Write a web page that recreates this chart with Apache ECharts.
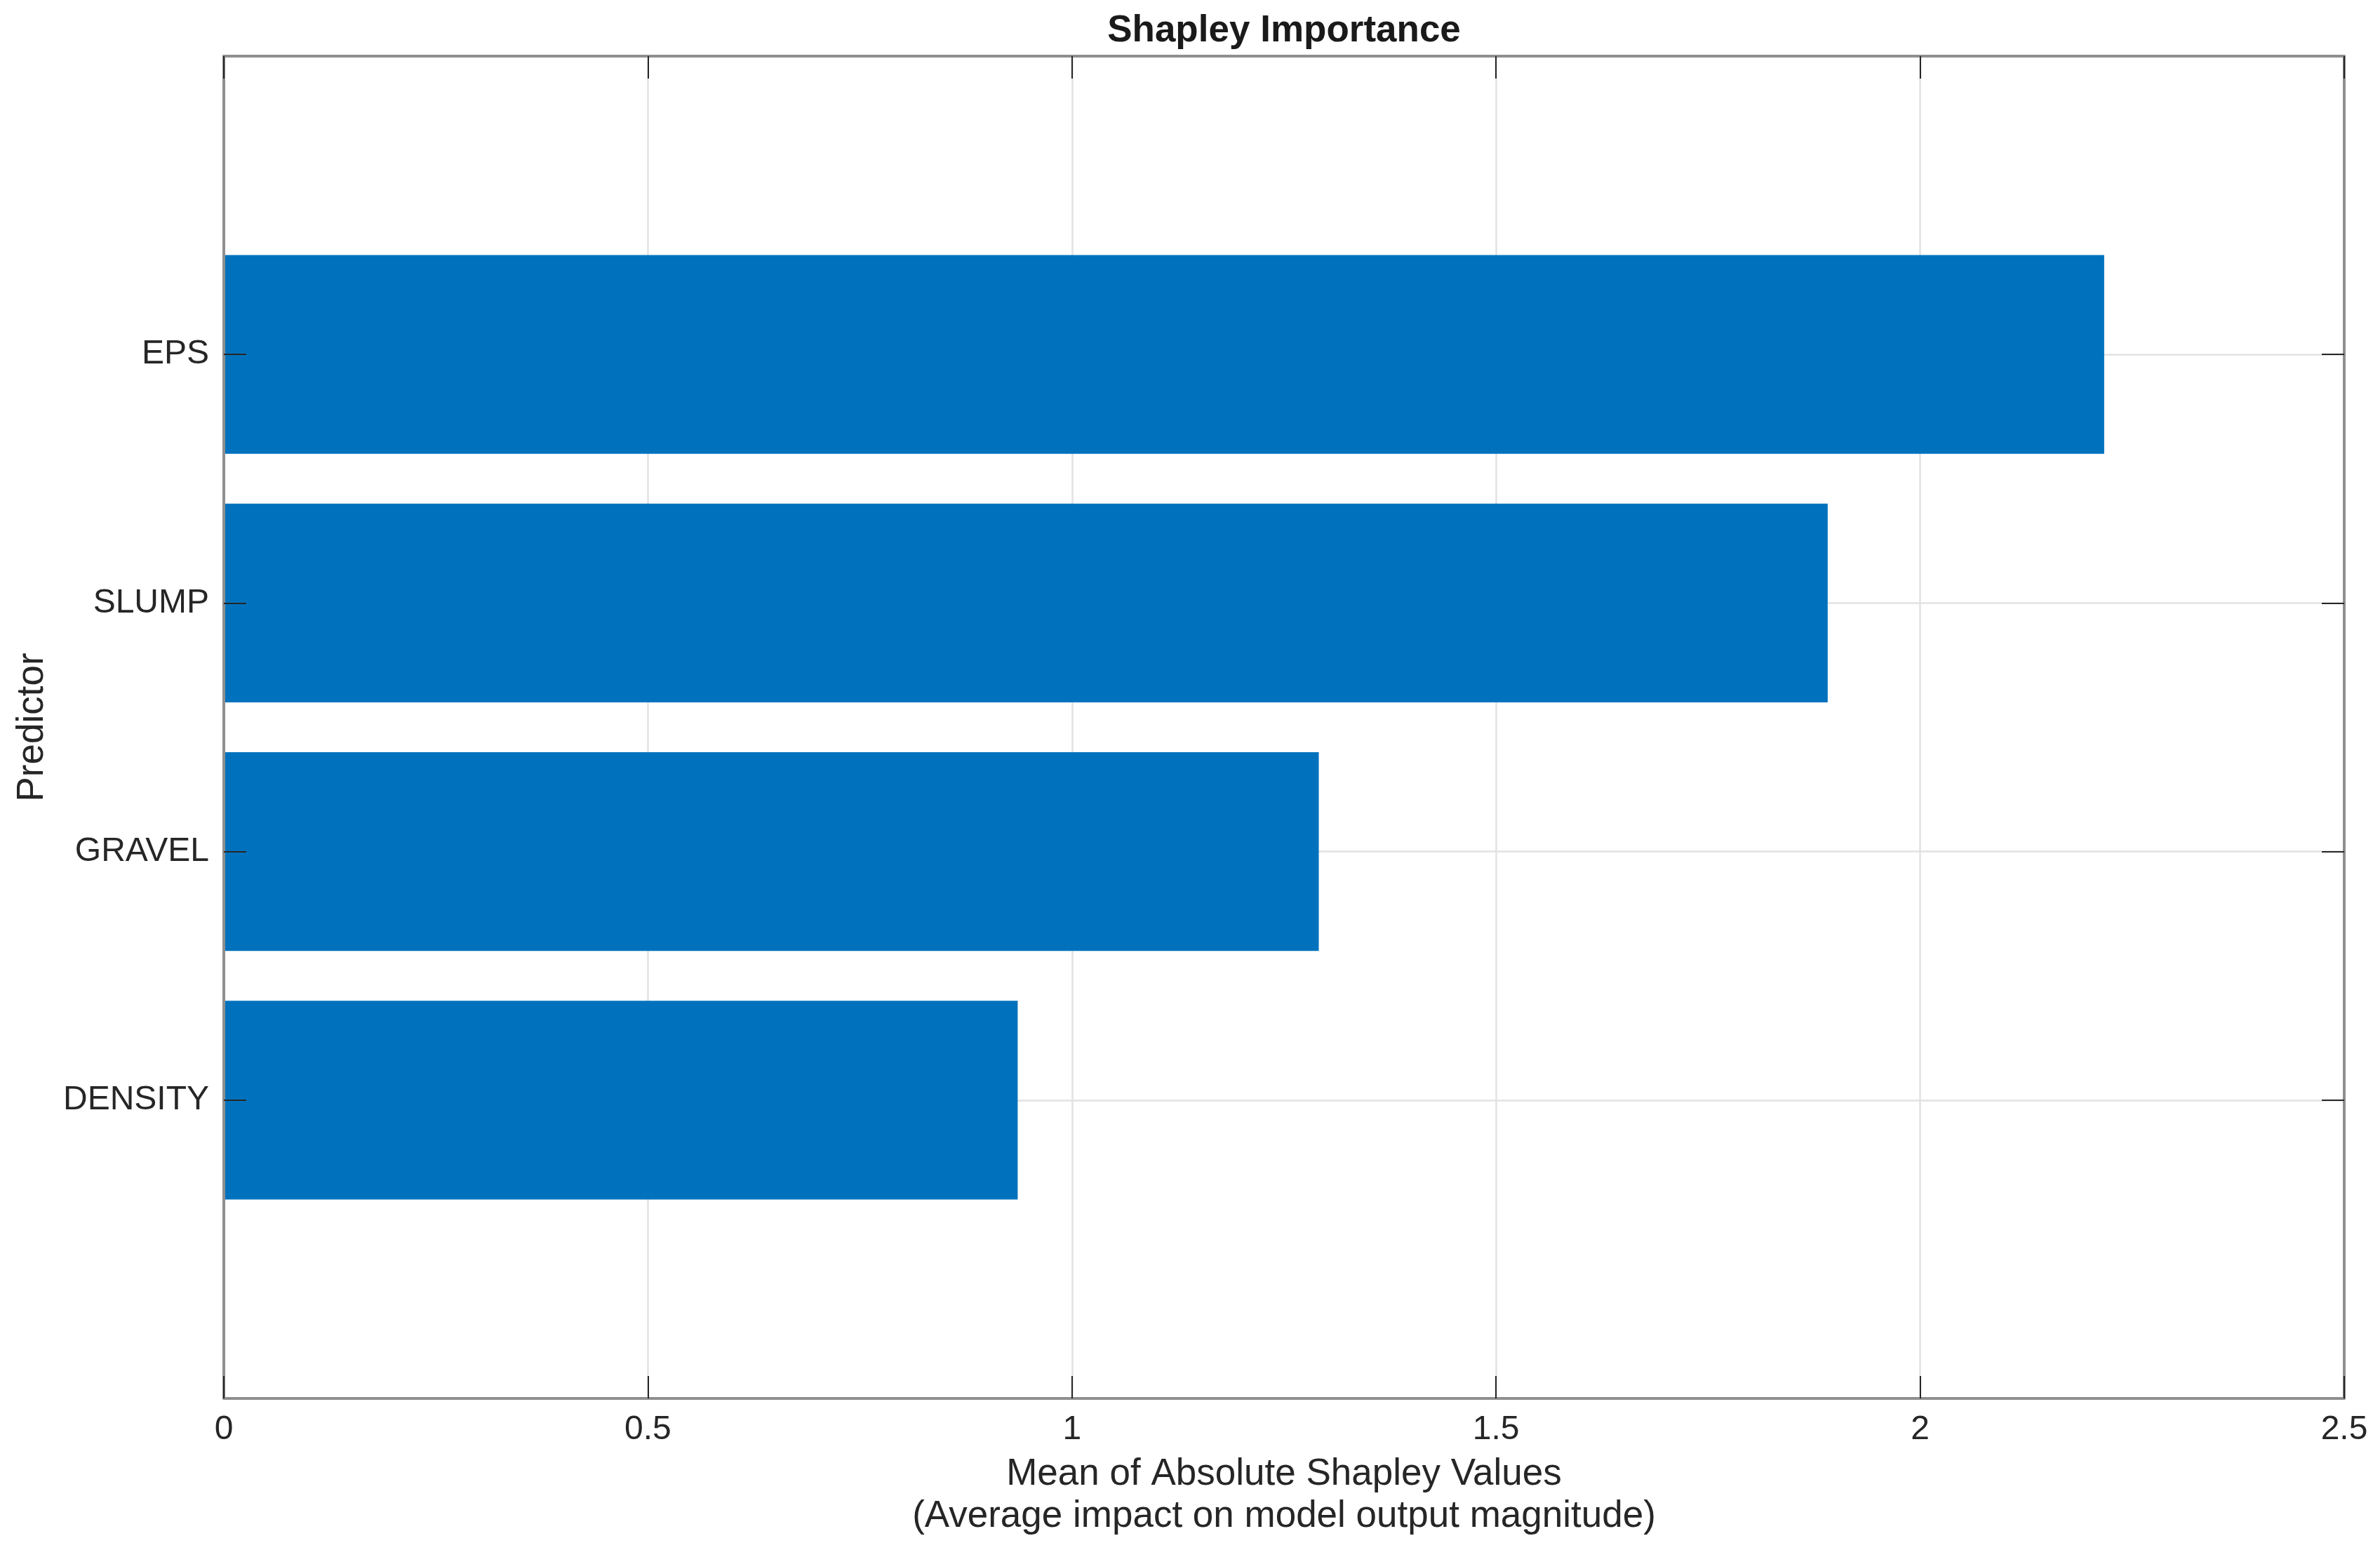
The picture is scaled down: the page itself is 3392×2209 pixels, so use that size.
<!DOCTYPE html>
<html>
<head>
<meta charset="utf-8">
<script src="https://cdn.jsdelivr.net/npm/echarts@6/dist/echarts.min.js"></script>
<style>
html,body{margin:0;padding:0;background:#fff;}
#chart{width:3392px;height:2209px;}
</style>
</head>
<body>
<div id="chart"></div>
<script>
// ---- data ----
var predictors = ['DENSITY', 'GRAVEL', 'SLUMP', 'EPS'];   // bottom to top
var meanAbsShap = [0.936, 1.291, 1.891, 2.217];
var xTicks = [0, 0.5, 1, 1.5, 2, 2.5];
var titleText = 'Shapley Importance';
var xName = 'Mean of Absolute Shapley Values\n(Average impact on model output magnitude)';
var yName = 'Predictor';

var seriesData = meanAbsShap.map(function (v, i) { return [v, i + 1]; });
var yPositions = predictors.map(function (p, i) { return i + 1; });

var FONT = 'Liberation Sans';
var TXT = '#262626';
var FRAME = '#8f8f8f';
var GRID = '#e2e2e2';
var BAR = '#0072BD';

var chart = echarts.init(document.getElementById('chart'));
var xBase = { type: 'value', min: xTicks[0], max: xTicks[xTicks.length - 1], interval: 0.5, gridIndex: 0 };
var yBase = { type: 'value', min: -0.2, max: 5.2, gridIndex: 0 };

chart.setOption({
  backgroundColor: '#ffffff',
  animation: false,
  title: {
    text: titleText, left: 1830, top: 18, textAlign: 'center', padding: 0,
    textStyle: { fontFamily: FONT, fontSize: 53, fontWeight: 'bold', color: '#1a1a1a' }
  },
  grid: { left: 319, right: 51, top: 80, bottom: 216, containLabel: false },
  xAxis: [
    Object.assign({}, xBase, {
      position: 'bottom', z: 0,
      name: xName, nameLocation: 'middle', nameGap: 78,
      nameTextStyle: { fontFamily: FONT, fontSize: 53, color: TXT, lineHeight: 60 },
      axisLine: { show: false }, axisTick: { show: false },
      axisLabel: { show: true, margin: 21, fontFamily: FONT, fontSize: 48, color: TXT },
      splitLine: { show: true, lineStyle: { color: GRID, width: 2.5 } }
    }),
    Object.assign({}, xBase, {
      position: 'bottom', z: 10,
      axisLine: { show: true, onZero: false, lineStyle: { color: FRAME, width: 4 } },
      axisTick: { show: true, inside: true, length: 32, lineStyle: { color: TXT, width: 2 } },
      axisLabel: { show: false }, splitLine: { show: false }
    }),
    Object.assign({}, xBase, {
      position: 'top', z: 10,
      axisLine: { show: true, onZero: false, lineStyle: { color: FRAME, width: 4 } },
      axisTick: { show: true, inside: true, length: 32, lineStyle: { color: TXT, width: 2 } },
      axisLabel: { show: false }, splitLine: { show: false }
    })
  ],
  yAxis: [
    Object.assign({}, yBase, {
      position: 'left', z: 0,
      name: yName, nameLocation: 'middle', nameGap: 246,
      nameTextStyle: { fontFamily: FONT, fontSize: 53, color: TXT },
      axisLine: { show: false },
      axisTick: { show: false, customValues: yPositions },
      axisLabel: {
        show: true, margin: 21, fontFamily: FONT, fontSize: 48, color: TXT,
        customValues: yPositions,
        formatter: function (v) { return predictors[Math.round(v) - 1] || ''; }
      },
      splitLine: { show: true, lineStyle: { color: GRID, width: 2.5 } }
    }),
    Object.assign({}, yBase, {
      position: 'left', z: 10,
      axisLine: { show: true, onZero: false, lineStyle: { color: FRAME, width: 4 } },
      axisTick: { show: true, inside: true, length: 32, customValues: yPositions, lineStyle: { color: TXT, width: 2 } },
      axisLabel: { show: false }, splitLine: { show: false }
    }),
    Object.assign({}, yBase, {
      position: 'right', z: 10,
      axisLine: { show: true, onZero: false, lineStyle: { color: FRAME, width: 4 } },
      axisTick: { show: true, inside: true, length: 32, customValues: yPositions, lineStyle: { color: TXT, width: 2 } },
      axisLabel: { show: false }, splitLine: { show: false }
    })
  ],
  series: [{
    type: 'custom',
    name: 'Mean |SHAP|',
    xAxisIndex: 0, yAxisIndex: 0, z: 2,
    data: seriesData,
    renderItem: function (params, api) {
      var v = api.value(0), p = api.value(1);
      var a = api.coord([0, p + 0.4]);
      var b = api.coord([v, p - 0.4]);
      return {
        type: 'rect',
        shape: { x: a[0], y: a[1], width: b[0] - a[0], height: b[1] - a[1] },
        style: { fill: BAR }
      };
    }
  }]
});
</script>
</body>
</html>
